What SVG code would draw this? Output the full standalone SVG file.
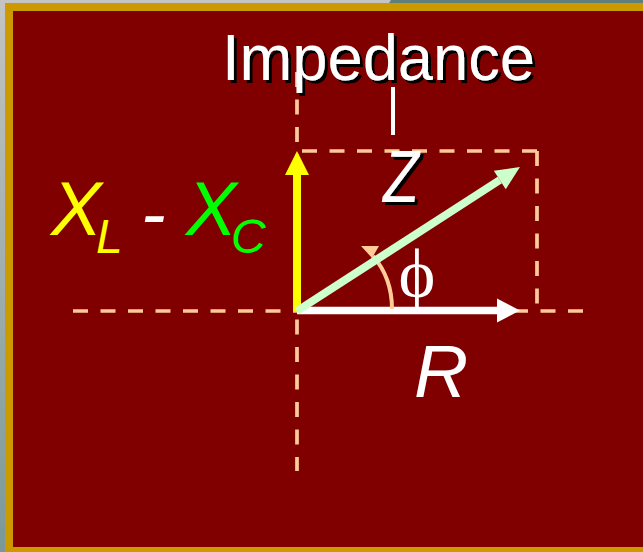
<svg xmlns="http://www.w3.org/2000/svg" width="643" height="552" viewBox="0 0 643 552">
  <defs>
    <linearGradient id="edge" x1="0" y1="0" x2="0" y2="1">
      <stop offset="0" stop-color="#c4c4c4"/>
      <stop offset="1" stop-color="#7a9898"/>
    </linearGradient>
    <filter id="shadow" x="-10%" y="-10%" width="130%" height="130%">
      <feDropShadow dx="3" dy="3" stdDeviation="0" flood-color="#000000" flood-opacity="1"/>
    </filter>
    <marker id="headYellow" markerUnits="userSpaceOnUse" markerWidth="24" markerHeight="24" refX="0" refY="12" orient="auto" overflow="visible">
      <path d="M0,0 L24,12 L0,24 Z" fill="#ffff00"/>
    </marker>
    <marker id="headWhite" markerUnits="userSpaceOnUse" markerWidth="24" markerHeight="24" refX="0" refY="12" orient="auto" overflow="visible">
      <path d="M0,0 L23,12 L0,24 Z" fill="#ffffff"/>
    </marker>
    <marker id="headGreen" markerUnits="userSpaceOnUse" markerWidth="24" markerHeight="24" refX="0" refY="11" orient="auto" overflow="visible">
      <path d="M0,0 L24,11 L0,22 Z" fill="#ccffcc"/>
    </marker>
  </defs>
  <style>
    .dash { stroke: #ffcc99; stroke-width: 3.7; stroke-dasharray: 15 12.5; fill: none; }
    .sans { font-family: "Liberation Sans", Arial, sans-serif; }
    .ital { font-family: "Liberation Sans", Arial, sans-serif; font-style: italic; }
  </style>

  <g id="background">
    <rect x="0" y="0" width="643" height="552" fill="url(#edge)"/>
    <polygon points="391,0 643,0 643,3 389,3" fill="#5f7f7a"/>
    <rect x="5" y="3" width="638" height="549" fill="#cc9900"/>
    <rect x="13" y="11" width="630" height="536" fill="#800000"/>
  </g>

  <g id="guides">
    <line class="dash" x1="73" y1="311" x2="585" y2="311"/>
    <line class="dash" x1="297" y1="72" x2="297" y2="471"/>
    <line class="dash" x1="537" y1="151" x2="297" y2="151"/>
    <line class="dash" x1="537" y1="151" x2="537" y2="311"/>
  </g>

  <g id="title">
    <text class="sans" x="222" y="80" font-size="65" fill="#ffffff" filter="url(#shadow)" textLength="313" lengthAdjust="spacingAndGlyphs">Impedance</text>
    <line x1="393" y1="87" x2="393" y2="135" stroke="#ffffff" stroke-width="4"/>
  </g>

  <g id="connectors">
    <line x1="297" y1="310.5" x2="497" y2="310.5" stroke="#ffffff" stroke-width="7.5" marker-end="url(#headWhite)"/>
    <line x1="297" y1="311" x2="297" y2="175" stroke="#ffff00" stroke-width="8" marker-end="url(#headYellow)"/>
    <path d="M392,309 Q392,278 373,256" stroke="#ffcc99" stroke-width="4" fill="none"/>
    <polygon points="361,246 379,246 372,258" fill="#ffcc99"/>
    <line x1="297" y1="311" x2="499.8" y2="180" stroke="#ccffcc" stroke-width="8" marker-end="url(#headGreen)"/>
  </g>

  <g id="label-z">
    <text class="ital" x="383" y="202" font-size="74" fill="#ffffff" filter="url(#shadow)" textLength="36" lengthAdjust="spacingAndGlyphs">Z</text>
  </g>

  <g id="label-r">
    <text class="ital" x="414" y="397" font-size="75" fill="#ffffff">R</text>
  </g>

  <g id="label-phi">
    <text x="417" y="297" font-size="70" fill="#ffffff" text-anchor="middle" font-family="'Liberation Serif', 'DejaVu Serif', serif">ϕ</text>
  </g>

  <g id="label-reactance">
    <text class="ital" x="51" y="235" font-size="76" fill="#ffff00">X<tspan x="96" y="253" font-size="48">L</tspan><tspan x="141" y="239" font-size="74" fill="#ffffff">-</tspan><tspan x="186" y="235" fill="#00ff00">X</tspan><tspan x="231" y="253" font-size="48" fill="#00ff00">C</tspan></text>
  </g>
</svg>
